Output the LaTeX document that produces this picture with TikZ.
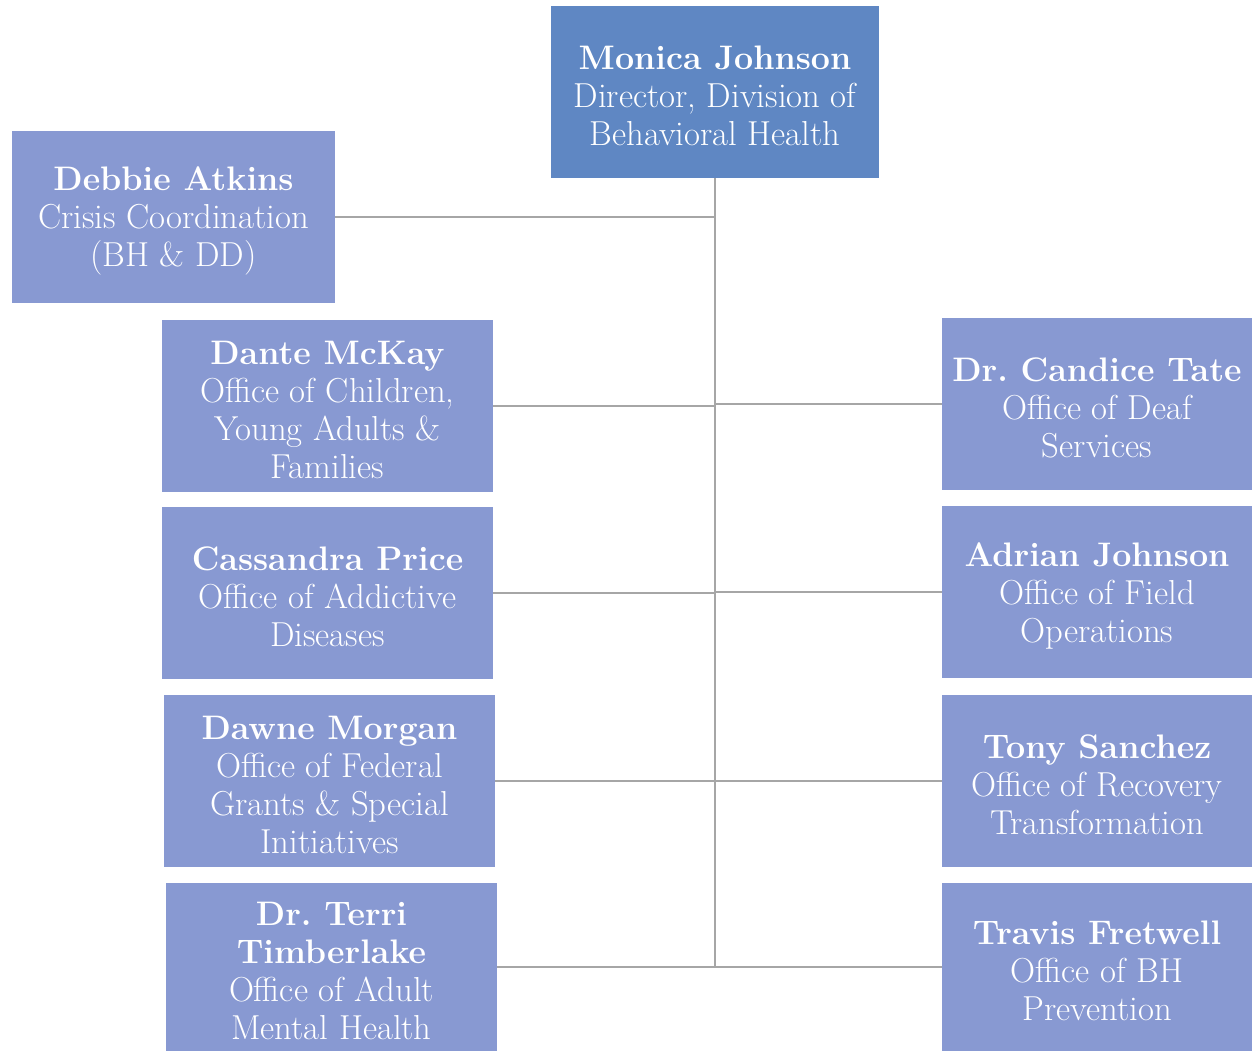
\documentclass[tikz,border=0pt]{standalone}
\usepackage{fontspec}
\definecolor{topblue}{RGB}{95,135,195}
\definecolor{boxblue}{RGB}{136,153,210}
\definecolor{linegray}{RGB}{166,166,166}
\frenchspacing
\newcommand{\pname}[1]{{\bfseries\fontsize{25.5}{28.5}\selectfont\rule{0pt}{24pt}#1}}
\newcommand{\pnamecont}[1]{{\bfseries\fontsize{25.5}{28.5}\selectfont #1}}
\begin{document}
\begin{tikzpicture}[x=0.75pt,y=-0.75pt,
  orgbox/.style={fill=boxblue,draw=none,text=white,align=center,inner sep=0pt,
    font=\fontsize{26}{28.5}\selectfont},
  link/.style={draw=linegray,line width=0.9pt}]
\useasboundingbox (0,0) rectangle (1253,1052);
\node[orgbox,fill=topblue,minimum width=328*0.75pt,minimum height=172*0.75pt] (top) at (715,92)
  {\pname{Monica Johnson}\\Director, Division of\\Behavioral Health};
\node[orgbox,minimum width=323*0.75pt,minimum height=172*0.75pt] (debbie) at (173.5,217)
  {\pname{Debbie Atkins}\\Crisis Coordination\\(BH \& DD)};
\node[orgbox,minimum width=331*0.75pt,minimum height=172*0.75pt] (dante) at (327.5,406)
  {\pname{Dante McKay}\\Office of Children,\\Young Adults \&\\Families};
\node[orgbox,minimum width=331*0.75pt,minimum height=172*0.75pt] (cassandra) at (327.5,593)
  {\pname{Cassandra Price}\\Office of Addictive\\Diseases};
\node[orgbox,minimum width=331*0.75pt,minimum height=172*0.75pt] (dawne) at (329.5,781)
  {\pname{Dawne Morgan}\\Office of Federal\\Grants \& Special\\Initiatives};
\node[orgbox,minimum width=331*0.75pt,minimum height=168*0.75pt] (terri) at (331.5,967)
  {\pname{Dr. Terri}\\\pnamecont{Timberlake}\\Office of Adult\\Mental Health};
\node[orgbox,minimum width=310*0.75pt,minimum height=172*0.75pt] (candice) at (1097,404)
  {\pname{Dr. Candice Tate}\\Office of Deaf\\Services};
\node[orgbox,minimum width=310*0.75pt,minimum height=172*0.75pt] (adrian) at (1097,592)
  {\pname{Adrian Johnson}\\Office of Field\\Operations};
\node[orgbox,minimum width=310*0.75pt,minimum height=172*0.75pt] (tony) at (1097,781)
  {\pname{Tony Sanchez}\\Office of Recovery\\Transformation};
\node[orgbox,minimum width=310*0.75pt,minimum height=168*0.75pt] (travis) at (1097,967)
  {\pname{Travis Fretwell}\\Office of BH\\Prevention};
\coordinate (trunkend) at (top.south |- terri.east);
\draw[link] (top.south) -- (trunkend);
\foreach \b in {debbie,dante,cassandra,dawne,terri}
  \draw[link] (\b.east -| top.south) -- (\b.east);
\foreach \b in {candice,adrian,tony,travis}
  \draw[link] (\b.west -| top.south) -- (\b.west);
\end{tikzpicture}
\end{document}
